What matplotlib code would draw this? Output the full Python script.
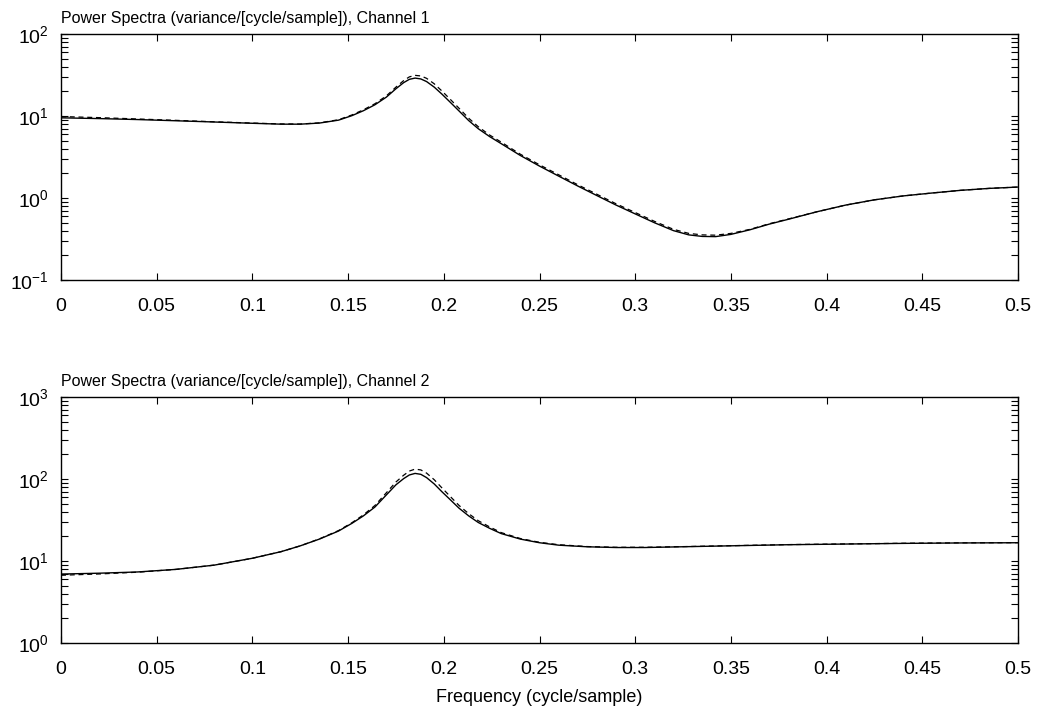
import matplotlib
matplotlib.use("Agg")
import matplotlib.pyplot as plt
from matplotlib.ticker import LogLocator, NullFormatter

plt.rcParams['font.family'] = ['Liberation Sans', 'DejaVu Sans']
plt.rcParams['mathtext.fontset'] = 'custom'
plt.rcParams['mathtext.rm'] = 'Liberation Sans'
plt.rcParams['mathtext.it'] = 'Liberation Sans'
plt.rcParams['mathtext.bf'] = 'Liberation Sans'
plt.rcParams['mathtext.default'] = 'regular'
plt.rcParams['axes.unicode_minus'] = False

# Channel 1
freq1 = [0.0, 0.02, 0.04, 0.06, 0.08, 0.10, 0.115, 0.125, 0.135, 0.145, 0.152,
         0.158, 0.164, 0.170, 0.175, 0.179, 0.182, 0.185, 0.188, 0.191, 0.195,
         0.199, 0.203, 0.208, 0.213, 0.218, 0.224, 0.230, 0.240, 0.250, 0.260,
         0.270, 0.280, 0.290, 0.300, 0.310, 0.320, 0.328, 0.335, 0.342, 0.350,
         0.360, 0.370, 0.380, 0.395, 0.41, 0.425, 0.44, 0.455, 0.47, 0.485, 0.5]
ch1_solid = [9.5, 9.3, 9.05, 8.75, 8.45, 8.15, 7.95, 7.95, 8.2, 8.9, 10.1,
             11.6, 13.7, 17.0, 21.5, 25.5, 28.0, 29.0, 28.3, 26.3, 22.5,
             18.5, 15.0, 11.5, 8.8, 7.0, 5.6, 4.6, 3.3, 2.45, 1.85,
             1.40, 1.07, 0.82, 0.64, 0.50, 0.40, 0.355, 0.34, 0.338, 0.36,
             0.41, 0.48, 0.55, 0.68, 0.82, 0.95, 1.06, 1.15, 1.24, 1.31, 1.36]
ch1_dashed = [9.85, 9.55, 9.2, 8.85, 8.5, 8.2, 8.0, 7.98, 8.25, 9.0, 10.3,
              11.9, 14.1, 17.6, 22.5, 27.0, 30.0, 31.3, 30.8, 28.8, 24.7,
              20.2, 16.3, 12.4, 9.4, 7.4, 5.85, 4.8, 3.42, 2.54, 1.92,
              1.45, 1.11, 0.85, 0.665, 0.52, 0.415, 0.37, 0.355, 0.352, 0.37,
              0.415, 0.485, 0.555, 0.68, 0.82, 0.95, 1.06, 1.15, 1.24, 1.31, 1.36]

# Channel 2
freq2 = [0.0, 0.02, 0.04, 0.06, 0.08, 0.10, 0.115, 0.125, 0.135, 0.145, 0.152,
         0.158, 0.164, 0.170, 0.175, 0.179, 0.182, 0.185, 0.188, 0.191, 0.195,
         0.199, 0.203, 0.208, 0.213, 0.218, 0.224, 0.230, 0.240, 0.250, 0.260,
         0.275, 0.29, 0.305, 0.33, 0.355, 0.38, 0.41, 0.44, 0.47, 0.5]
ch2_solid = [6.93, 7.1, 7.35, 7.9, 8.9, 10.8, 13.0, 15.3, 18.5, 23.2, 28.8,
             35.5, 45.5, 64.0, 85.0, 101.0, 112.0, 117.0, 114.0, 104.0, 87.0,
             70.0, 57.0, 44.0, 35.5, 29.5, 25.0, 21.6, 18.5, 16.7, 15.6,
             14.9, 14.6, 14.6, 15.0, 15.4, 15.8, 16.1, 16.4, 16.6, 16.7]
ch2_dashed = [6.7, 6.95, 7.3, 7.9, 8.9, 10.8, 13.0, 15.3, 18.6, 23.5, 29.3,
              36.5, 47.5, 68.0, 92.0, 111.0, 125.0, 132.0, 129.0, 118.0, 98.0,
              78.0, 62.5, 47.5, 37.8, 31.0, 26.0, 22.2, 18.8, 16.9, 15.8,
              15.0, 14.7, 14.7, 15.05, 15.45, 15.85, 16.15, 16.45, 16.65, 16.75]

titles = ["Power Spectra (variance/[cycle/sample]), Channel 1",
          "Power Spectra (variance/[cycle/sample]), Channel 2"]
ylims = [(0.1, 100), (1, 1000)]
xticks = [0, 0.05, 0.1, 0.15, 0.2, 0.25, 0.3, 0.35, 0.4, 0.45, 0.5]
xticklabels = ["0", "0.05", "0.1", "0.15", "0.2", "0.25", "0.3", "0.35", "0.4", "0.45", "0.5"]

fig = plt.figure(figsize=(10.38, 7.13), dpi=100)
ax1 = fig.add_axes([61/1038, 1-280/713, 957/1038, 246/713])
ax2 = fig.add_axes([61/1038, 1-643/713, 957/1038, 246/713])

data = [(ax1, freq1, ch1_solid, ch1_dashed), (ax2, freq2, ch2_solid, ch2_dashed)]
for i, (ax, f, s, d) in enumerate(data):
    ax.plot(f, s, color='black', lw=1.0, ls='-', solid_joinstyle='round')
    ax.plot(f, d, color='black', lw=0.9, ls=(0, (4, 3)))
    ax.set_yscale('log')
    ax.set_ylim(*ylims[i])
    ax.set_xlim(0, 0.5)
    ax.set_xticks(xticks)
    ax.set_xticklabels(xticklabels)
    ax.yaxis.set_major_locator(LogLocator(base=10, numticks=10))
    ax.yaxis.set_minor_locator(LogLocator(base=10, subs=range(2, 10), numticks=10))
    ax.yaxis.set_minor_formatter(NullFormatter())
    ax.tick_params(which='both', direction='in', top=True, right=True,
                   length=5, width=0.8, color='black')
    ax.tick_params(axis='x', labelsize=14, pad=13)
    ax.tick_params(axis='y', labelsize=14, pad=9)
    ax.tick_params(which='minor', length=5, width=0.8)
    for sp in ax.spines.values():
        sp.set_linewidth(1.0)
        sp.set_color('black')
    ax.set_title(titles[i], loc='left', fontsize=11.5, pad=8)

ax2.set_xlabel("Frequency (cycle/sample)", fontsize=13, labelpad=8)

fig.savefig("out.png", dpi=100)
